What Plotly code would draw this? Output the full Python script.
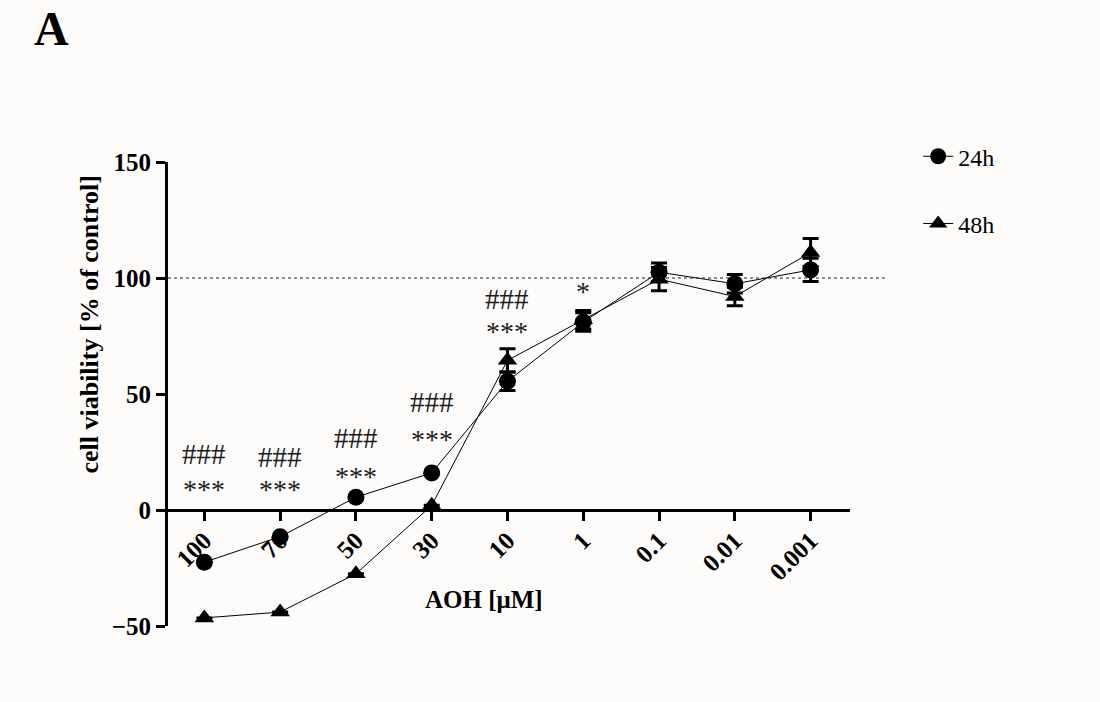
import plotly.graph_objects as go

categories = ["100", "70", "50", "30", "10", "1", "0.1", "0.01", "0.001"]
v24 = [-22.5, -11.5, 5.5, 16, 55.5, 81, 102.5, 97.5, 103.5]
e24 = [0, 0, 0, 0, 4, 4, 4, 4, 5]
v48 = [-46.5, -44, -27.5, 2, 64.5, 82, 99.5, 92, 111]
e48 = [0, 0, 0, 0, 5, 4, 5, 4, 6]

hash_labels = ["###", "###", "###", "###", "###", "", "", "", ""]
hash_y = [24, 23, 31, 46.5, 91, None, None, None, None]
star_labels = ["***", "***", "***", "***", "***", "*", "", "", ""]
star_y = [9, 9, 14.5, 30.5, 77, 94, None, None, None]

FONT = "Liberation Serif"
BG = "#fefcfb"

fig = go.Figure()
fig.add_trace(go.Scatter(
    x=categories, y=v24, mode="lines+markers", name="24h",
    legendgroup="a",
    line=dict(color="black", width=1),
    marker=dict(symbol="circle", size=17, color="black"),
    error_y=dict(type="data", array=e24, visible=True, color="black", thickness=3, width=8),
))
fig.add_trace(go.Scatter(
    x=categories, y=v48, mode="lines+markers", name="48h",
    legendgroup="b",
    line=dict(color="black", width=1),
    marker=dict(symbol="triangle-up", size=17, color="black"),
    error_y=dict(type="data", array=e48, visible=True, color="black", thickness=3, width=8),
))

annotations = []
for i, (t, yv) in enumerate(zip(hash_labels, hash_y)):
    if t:
        annotations.append(dict(x=i, y=yv, xref="x", yref="y", text=t, showarrow=False,
                                font=dict(family=FONT, size=29, color="#1a1a1a")))
for i, (t, yv) in enumerate(zip(star_labels, star_y)):
    if t:
        annotations.append(dict(x=i, y=yv, xref="x", yref="y", text=t, showarrow=False,
                                font=dict(family=FONT, size=28, color="#1a1a1a")))

annotations += [
    dict(x=-0.199, y=1.35, xref="paper", yref="paper", text="<b>A</b>", showarrow=False,
         font=dict(family=FONT, size=48, color="black")),
    dict(x=0.463, y=0.024, xref="paper", yref="paper", text="<b>AOH [μM]</b>", showarrow=False,
         font=dict(family=FONT, size=25, color="black")),
    dict(x=-0.139, y=0.649, xref="paper", yref="paper", text="<b>cell viability [% of control]</b>",
         showarrow=False, textangle=-90, font=dict(family=FONT, size=26, color="black")),
]

fig.update_layout(
    width=1100, height=702,
    paper_bgcolor=BG, plot_bgcolor=BG,
    margin=dict(l=168, r=250, t=162, b=76),
    font=dict(family=FONT, color="black"),
    showlegend=True,
    legend=dict(x=1.1, y=1.06, xanchor="left", yanchor="top",
                font=dict(family=FONT, size=24, color="black"),
                tracegroupgap=33, bgcolor="rgba(0,0,0,0)"),
    annotations=annotations,
    shapes=[dict(type="line", xref="paper", yref="y", x0=0, x1=1.051, y0=100, y1=100,
                 line=dict(color="#222", width=1, dash="dot"))],
    xaxis=dict(
        type="category", range=[-0.48, 8.52],
        showgrid=False, zeroline=False,
        showline=True, linecolor="black", linewidth=3,
        ticks="outside", ticklen=9, tickwidth=3, tickcolor="black",
        tickangle=-45, anchor="free", position=0.25, ticklabelstandoff=-5,
        tickfont=dict(family=FONT, size=25, color="black", weight="bold"),
    ),
    yaxis=dict(
        range=[-50, 150], tickvals=[-50, 0, 50, 100, 150],
        ticktext=["−50", "0", "50", "100", "150"],
        showgrid=False, zeroline=False,
        showline=True, linecolor="black", linewidth=3,
        ticks="outside", ticklen=9, tickwidth=3, tickcolor="black",
        tickfont=dict(family=FONT, size=25, color="black", weight="bold"),
    ),
)

fig.write_html("out.html", config={"displayModeBar": False},
               post_script="document.body.style.margin='0';document.body.style.background='%s';" % BG)
